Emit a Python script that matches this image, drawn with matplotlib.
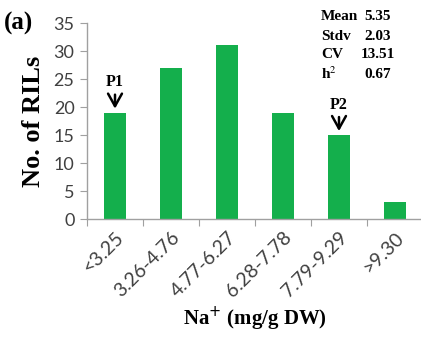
import matplotlib.pyplot as plt

# Na+ content classes and number of RILs in each
categories = ['<3.25', '3.26-4.76', '4.77-6.27', '6.28-7.78', '7.79-9.29', '>9.30']
counts = [19, 27, 31, 19, 15, 3]

# parental lines marked over their classes
parents = ['P1', 'P2']
parent_idx = [0, 4]

stat_names = ['Mean', 'Stdv', 'CV', 'h$^{2}$']
stat_values = ['5.35', '2.03', '13.51', '0.67']

green = '#14AF4C'
gray = '#a0a0a0'
tick_color = '#404040'

fig = plt.figure(figsize=(4.21, 3.40), dpi=100)
ax = fig.add_axes([87 / 421, 1 - 219 / 340, 336 / 421, (219 - 23) / 340])

x = range(len(categories))
ax.bar(x, counts, width=0.41, color=green, zorder=2)

ax.set_xlim(-0.5, len(categories) - 0.5)
ax.set_ylim(0, 35)
ax.set_yticks(range(0, 36, 5))
ax.set_xticks([i - 0.5 for i in range(len(categories))])
ax.set_xticklabels([])
ax.set_xticks(list(x), minor=True)
ax.set_xticklabels(categories, minor=True, rotation=45, ha='right',
                   rotation_mode='anchor', fontsize=14, color=tick_color,
                   family='Lato')
ax.tick_params(axis='x', which='minor', length=0, pad=7)
ax.tick_params(axis='x', which='major', length=5, color=gray, direction='out')
ax.tick_params(axis='y', length=5, color=gray, labelcolor=tick_color,
               labelsize=13, pad=4)
for lbl in ax.get_yticklabels():
    lbl.set_family('Lato')

for side in ['top', 'right']:
    ax.spines[side].set_visible(False)
for side in ['left', 'bottom']:
    ax.spines[side].set_color(gray)
    ax.spines[side].set_linewidth(1.0)

serif = 'Liberation Serif'
ax.set_ylabel('No. of RILs', fontsize=19, fontweight='bold', family=serif,
              labelpad=6)
ax.set_xlabel('Na$^{+}$ (mg/g DW)', fontsize=15, fontweight='bold',
              family=serif, labelpad=3)
fig.text(0.01, 1 - 23 / 340, '(a)', fontsize=18, fontweight='bold', family=serif,
         va='center')

# arrows pointing at the parental classes
for name, i in zip(parents, parent_idx):
    top = counts[i]
    ax.annotate('', xy=(i, top + 0.2), xytext=(i, top + 3.7),
                arrowprops=dict(arrowstyle='->, head_length=0.9, head_width=0.5',
                                color='black', lw=1.8), zorder=3)
    ax.text(i, top + 4.0, name, ha='center', va='bottom', fontsize=11.5,
            fontweight='bold', family=serif)

for k, (n, v) in enumerate(zip(stat_names, stat_values)):
    yy = 1 - (17 + 19 * k) / 340
    fig.text(321 / 421, yy, n, fontsize=11, fontweight='bold', family=serif,
             va='center', math_fontfamily='stix')
    fig.text(378 / 421, yy, v, fontsize=11, fontweight='bold', family=serif,
             va='center', ha='center')

fig.savefig('out.png', dpi=100)
